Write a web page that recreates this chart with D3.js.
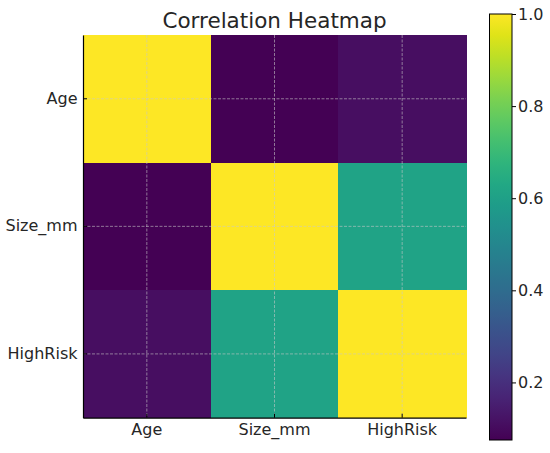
<!DOCTYPE html>
<html>
<head>
<meta charset="utf-8">
<script src="https://cdn.jsdelivr.net/npm/d3@7"></script>
<style>
  html, body { margin: 0; padding: 0; background: #fff; }
  svg { display: block; font-family: "DejaVu Sans", sans-serif; }
</style>
</head>
<body>
<svg id="chart" width="550" height="453"></svg>
<script>
const labels = ["Age", "Size_mm", "HighRisk"];
const rowAge = [1.0, 0.075, 0.11];
const rowSize = [0.075, 1.0, 0.61];
const rowHighRisk = [0.11, 0.61, 1.0];
const matrix = [rowAge, rowSize, rowHighRisk];
const colorbarTicks = [0.2, 0.4, 0.6, 0.8, 1.0];
const title = "Correlation Heatmap";

const svg = d3.select("#chart");
const textColor = "#262626";

const plot = { left: 83, right: 466, top: 35, bottom: 417.7 };

const x = d3.scaleBand().domain(labels).range([plot.left, plot.right]).padding(0);
const y = d3.scaleBand().domain(labels).range([plot.top, plot.bottom]).padding(0);

const allVals = matrix.flat();
const vmin = d3.min(allVals), vmax = d3.max(allVals);
const color = d3.scaleSequential(d3.interpolateViridis).domain([vmin, vmax]);

const cells = [];
matrix.forEach((row, i) => row.forEach((v, j) => cells.push({ r: labels[i], c: labels[j], v })));

svg.append("g").selectAll("rect").data(cells).join("rect")
  .attr("x", d => x(d.c))
  .attr("y", d => y(d.r))
  .attr("width", x.bandwidth() + 0.5)
  .attr("height", y.bandwidth() + 0.5)
  .attr("fill", d => color(d.v))
  .attr("shape-rendering", "crispEdges");

// grid lines
const grid = svg.append("g")
  .attr("stroke", "#c8c8c8")
  .attr("stroke-opacity", 0.65)
  .attr("stroke-width", 0.9)
  .attr("stroke-dasharray", "3,1.5");
labels.forEach(l => {
  const cx = x(l) + x.bandwidth() / 2;
  grid.append("line").attr("x1", cx).attr("x2", cx).attr("y1", plot.top).attr("y2", plot.bottom);
  const cy = y(l) + y.bandwidth() / 2;
  grid.append("line").attr("y1", cy).attr("y2", cy).attr("x1", plot.left).attr("x2", plot.right);
});

// axes
const xAxis = d3.axisBottom(x).tickSizeInner(-4).tickSizeOuter(0).tickPadding(6);
const gx = svg.append("g").attr("transform", `translate(0,${plot.bottom})`).call(xAxis);
gx.select(".domain").attr("stroke", "#000").attr("stroke-width", 1.2);
gx.selectAll(".tick line").attr("stroke", "#000").attr("stroke-width", 1);
gx.selectAll(".tick text").attr("font-size", 16).attr("fill", textColor)
  .attr("font-family", "DejaVu Sans, sans-serif");

const yAxis = d3.axisLeft(y).tickSizeInner(-4).tickSizeOuter(0).tickPadding(5.5);
const gy = svg.append("g").attr("transform", `translate(${plot.left},0)`).call(yAxis);
gy.select(".domain").attr("stroke", "#000").attr("stroke-width", 1.2);
gy.selectAll(".tick line").attr("stroke", "#000").attr("stroke-width", 1);
gy.selectAll(".tick text").attr("font-size", 16).attr("fill", textColor)
  .attr("font-family", "DejaVu Sans, sans-serif");

// title
svg.append("text")
  .attr("x", (plot.left + plot.right) / 2)
  .attr("y", 28)
  .attr("text-anchor", "middle")
  .attr("font-size", 21.5)
  .attr("fill", textColor)
  .text(title);

// colorbar
const cb = { x: 489.5, w: 22.5, top: 14, bottom: 440 };
const cy = d3.scaleLinear().domain([vmin, vmax]).range([cb.bottom, cb.top]);
const defs = svg.append("defs");
const grad = defs.append("linearGradient").attr("id", "cbgrad")
  .attr("x1", 0).attr("y1", 1).attr("x2", 0).attr("y2", 0);
d3.range(0, 1.0001, 0.05).forEach(t => {
  grad.append("stop").attr("offset", t).attr("stop-color", color(vmin + t * (vmax - vmin)));
});
svg.append("rect")
  .attr("x", cb.x).attr("y", cb.top)
  .attr("width", cb.w).attr("height", cb.bottom - cb.top)
  .attr("fill", "url(#cbgrad)")
  .attr("stroke", "#000").attr("stroke-width", 1);

const cAxis = d3.axisRight(cy).tickValues(colorbarTicks).tickFormat(d3.format(".1f"))
  .tickSizeInner(4).tickSizeOuter(0).tickPadding(2);
const gc = svg.append("g").attr("transform", `translate(${cb.x + cb.w},0)`).call(cAxis);
gc.select(".domain").remove();
gc.selectAll(".tick line").attr("stroke", "#000");
gc.selectAll(".tick text").attr("font-size", 16).attr("fill", textColor)
  .attr("font-family", "DejaVu Sans, sans-serif");
</script>
</body>
</html>
